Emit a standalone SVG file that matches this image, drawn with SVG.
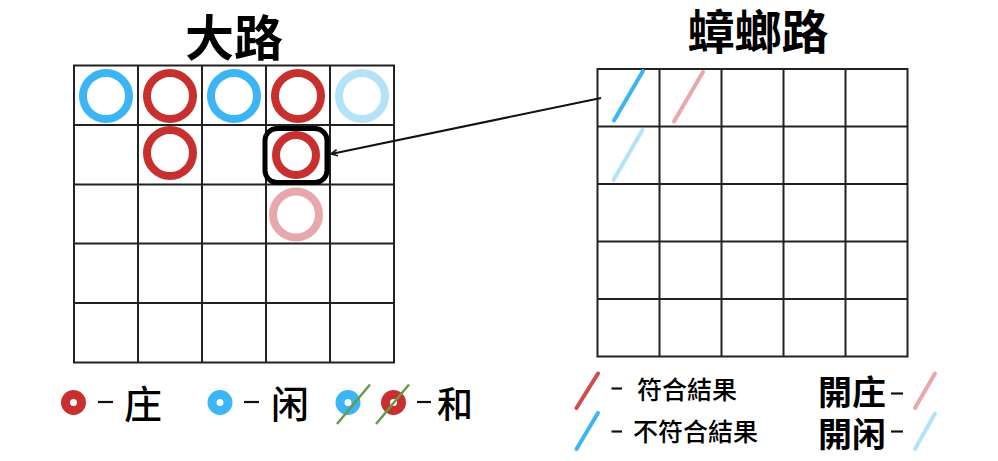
<svg xmlns="http://www.w3.org/2000/svg" width="998" height="461" viewBox="0 0 998 461">
<style>
.grid{fill:none;stroke:#222;stroke-width:2}
.ring{fill:none;stroke-width:8}
.red{stroke:#c8302f}
.blue{stroke:#3bb5f3}
.lblue{stroke:#b4e2f7}
.pink{stroke:#e8a8ab}
.slash{stroke-width:4;stroke-linecap:round}
.title{font-family:"Noto Sans CJK SC","Noto Sans CJK TC",sans-serif;font-weight:bold;fill:#000}
.lbl{font-family:"Noto Sans CJK SC","Noto Sans CJK TC",sans-serif;fill:#000}
.dash{stroke:#111;stroke-width:2.2}
.mini{fill:none;stroke-width:9}
</style>
<defs>
<marker id="arr" viewBox="0 0 10 10" refX="9" refY="5" markerWidth="8" markerHeight="8" orient="auto-start-reverse" markerUnits="userSpaceOnUse">
<path d="M1,1 L9,5 L1,9" fill="none" stroke="#111" stroke-width="2"/>
</marker>
</defs>
<rect width="998" height="461" fill="#fff"/>

<g id="bigroad">
<text class="title" x="234" y="56" font-size="49" text-anchor="middle">大路</text>
<g class="grid">
<rect x="74" y="65.5" width="320" height="297"/>
<path d="M138,65.5V362.5M202,65.5V362.5M266,65.5V362.5M330,65.5V362.5M74,125H394M74,184.5H394M74,243.5H394M74,303H394"/>
</g>
<circle class="ring blue" cx="106" cy="96" r="23"/>
<circle class="ring red" cx="170" cy="96" r="23"/>
<circle class="ring blue" cx="234" cy="96" r="23"/>
<circle class="ring red" cx="298" cy="96" r="23"/>
<circle class="ring lblue" cx="362" cy="96" r="23"/>
<circle class="ring red" cx="170" cy="153" r="23"/>
<circle class="ring red" cx="296" cy="155" r="20"/>
<rect x="265" y="128.5" width="62" height="54" rx="12" fill="none" stroke="#000" stroke-width="5"/>
<circle class="ring pink" cx="296" cy="214.5" r="23"/>
</g>

<g id="cockroach">
<text class="title" x="758" y="49" font-size="47" text-anchor="middle">蟑螂路</text>
<g class="grid">
<rect x="597.5" y="69" width="310" height="287.5"/>
<path d="M659.5,69V356.5M721.5,69V356.5M783.5,69V356.5M845.5,69V356.5M597.5,126.5H907.5M597.5,184H907.5M597.5,241.5H907.5M597.5,299H907.5"/>
</g>
<line class="slash blue" x1="614" y1="120.5" x2="643" y2="71"/>
<line class="slash pink" x1="674" y1="121.5" x2="703" y2="72"/>
<line class="slash lblue" x1="613.5" y1="180" x2="642.5" y2="130"/>
</g>

<g id="connectors">
<line x1="601" y1="98" x2="331" y2="154" stroke="#111" stroke-width="2" marker-end="url(#arr)"/>
</g>

<g id="legend-left">
<circle class="mini red" cx="73.5" cy="402.5" r="8"/>
<line class="dash" x1="98" y1="402" x2="113" y2="402"/>
<text class="lbl" x="124" y="418" font-size="38" font-weight="500">庄</text>
<circle class="mini blue" cx="220" cy="402.5" r="8"/>
<line class="dash" x1="244" y1="402" x2="259" y2="402"/>
<text class="lbl" x="271" y="418" font-size="38" font-weight="500">闲</text>
<circle class="mini blue" cx="348" cy="402.5" r="8"/>
<line x1="337" y1="424" x2="370" y2="384.5" stroke="#6a9a48" stroke-width="2.5"/>
<circle class="mini red" cx="393.5" cy="402.5" r="8"/>
<line x1="376" y1="424" x2="409" y2="384.5" stroke="#6a9a48" stroke-width="2.5"/>
<line class="dash" x1="417" y1="402" x2="431" y2="402"/>
<text class="lbl" x="437" y="418" font-size="36" font-weight="500">和</text>
</g>

<g id="legend-right">
<line class="slash red" x1="576.5" y1="408" x2="598" y2="373.5" stroke-width="3" opacity="0.85"/>
<line class="dash" x1="611.5" y1="388.5" x2="622" y2="388.5" stroke-width="1.8"/>
<text class="lbl" x="637" y="399" font-size="25" font-weight="500">符合結果</text>
<line class="slash blue" x1="576.5" y1="449" x2="598" y2="413" stroke-width="3"/>
<line class="dash" x1="611.5" y1="431.5" x2="622" y2="431.5" stroke-width="1.8"/>
<text class="lbl" x="633" y="440.5" font-size="25" font-weight="500">不符合結果</text>
<text class="title" x="818" y="405" font-size="34">開庄</text>
<line class="dash" x1="891" y1="393.5" x2="903" y2="393.5" stroke-width="1.8"/>
<line class="slash pink" x1="915" y1="408" x2="935" y2="373.5" stroke-width="3"/>
<text class="title" x="818" y="447" font-size="34">開闲</text>
<line class="dash" x1="891" y1="431.5" x2="903" y2="431.5" stroke-width="1.8"/>
<line class="slash lblue" x1="915" y1="449" x2="935" y2="413.5" stroke-width="3"/>
</g>
</svg>
